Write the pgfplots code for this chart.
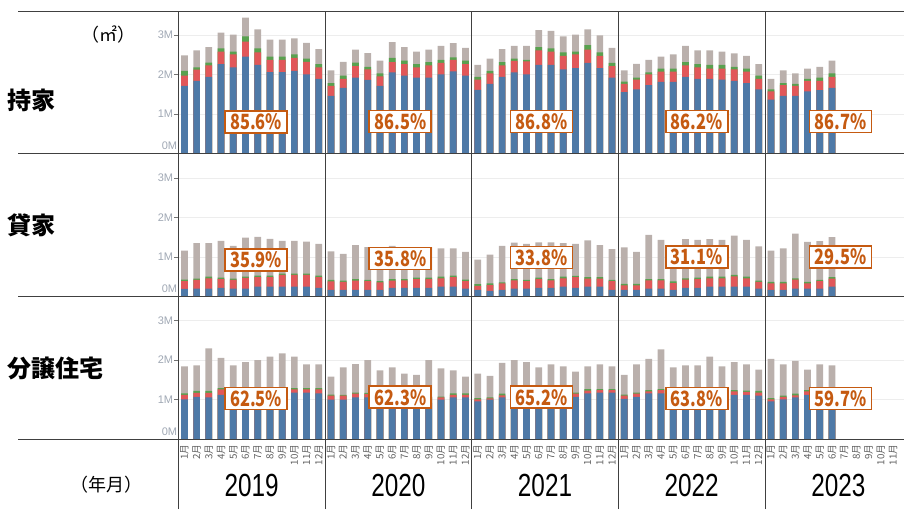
\documentclass[border=0pt]{standalone}
\usepackage{pgfplots}
\pgfplotsset{compat=1.18}
\usepackage{pgfplotstable}
\usepackage{fontspec}
\usepackage{graphicx}
\setmainfont{Liberation Sans}
\newfontfamily\jp{Noto Sans CJK JP}
\definecolor{cblue}{HTML}{4E79A7}
\definecolor{cred}{HTML}{E15759}
\definecolor{cgreen}{HTML}{59A14F}
\definecolor{cgray}{HTML}{BAB0AC}
\definecolor{lblorange}{HTML}{C55A11}
\definecolor{tickgray}{HTML}{A0A8B4}
\definecolor{monthgray}{HTML}{606060}
\definecolor{linec}{HTML}{404040}

% columns: x, total (top of grey), top of green, top of red, top of blue (millions of m2)
\pgfplotstableread{
x t g r b
1 2.48 2.09 1.97 1.71
2 2.61 2.18 2.12 1.84
3 2.69 2.30 2.23 1.94
4 3.06 2.66 2.58 2.26
5 3.01 2.58 2.51 2.18
6 3.44 2.96 2.83 2.45
7 3.14 2.66 2.56 2.24
8 2.88 2.45 2.37 2.06
9 2.88 2.45 2.37 2.06
10 2.91 2.51 2.42 2.09
11 2.80 2.40 2.32 2.00
12 2.64 2.26 2.18 1.89
13 2.10 1.78 1.71 1.46
14 2.32 1.97 1.89 1.66
15 2.63 2.30 2.21 1.92
16 2.54 2.19 2.13 1.86
17 2.35 2.03 1.95 1.71
18 2.82 2.42 2.31 2.05
19 2.69 2.35 2.26 1.97
20 2.58 2.26 2.18 1.92
21 2.63 2.31 2.23 1.92
22 2.72 2.37 2.29 2.00
23 2.79 2.43 2.37 2.08
24 2.67 2.35 2.26 1.97
25 2.24 1.94 1.87 1.61
26 2.40 2.09 2.03 1.76
27 2.64 2.31 2.23 1.94
28 2.72 2.40 2.34 2.05
29 2.72 2.37 2.33 2.00
30 3.12 2.69 2.61 2.24
31 3.10 2.66 2.58 2.24
32 2.96 2.56 2.47 2.13
33 3.01 2.58 2.51 2.16
34 3.14 2.74 2.63 2.29
35 2.99 2.56 2.47 2.16
36 2.67 2.29 2.21 1.92
37 2.10 1.82 1.76 1.55
38 2.27 1.92 1.87 1.62
39 2.37 2.05 2.00 1.73
40 2.45 2.15 2.07 1.81
41 2.51 2.15 2.07 1.81
42 2.72 2.31 2.23 1.94
43 2.61 2.26 2.18 1.89
44 2.61 2.24 2.15 1.89
45 2.58 2.24 2.15 1.87
46 2.53 2.19 2.13 1.84
47 2.47 2.15 2.07 1.78
48 2.26 1.97 1.89 1.62
49 1.89 1.62 1.57 1.36
50 2.10 1.78 1.73 1.46
51 2.03 1.76 1.71 1.46
52 2.15 1.89 1.84 1.57
53 2.19 1.92 1.84 1.60
54 2.35 2.03 1.94 1.66
}\rowA

\pgfplotstableread{
x t g r b
1 1.16 0.43 0.39 0.19
2 1.35 0.45 0.42 0.20
3 1.35 0.50 0.46 0.20
4 1.41 0.48 0.44 0.22
5 1.28 0.45 0.42 0.20
6 1.49 0.50 0.47 0.20
7 1.51 0.53 0.49 0.25
8 1.46 0.53 0.49 0.25
9 1.41 0.58 0.55 0.25
10 1.41 0.58 0.55 0.25
11 1.39 0.58 0.55 0.25
12 1.33 0.53 0.49 0.22
13 1.14 0.42 0.38 0.17
14 1.08 0.40 0.37 0.17
15 1.30 0.44 0.40 0.17
16 1.25 0.42 0.39 0.17
17 1.20 0.39 0.36 0.17
18 1.28 0.44 0.40 0.22
19 1.22 0.44 0.41 0.22
20 1.20 0.48 0.44 0.22
21 1.25 0.48 0.44 0.22
22 1.22 0.50 0.46 0.25
23 1.22 0.53 0.49 0.25
24 1.13 0.43 0.39 0.20
25 0.93 0.31 0.27 0.17
26 1.06 0.33 0.29 0.14
27 1.28 0.36 0.33 0.17
28 1.36 0.44 0.41 0.20
29 1.33 0.42 0.39 0.20
30 1.37 0.48 0.44 0.22
31 1.37 0.44 0.41 0.22
32 1.35 0.50 0.46 0.25
33 1.33 0.52 0.49 0.22
34 1.42 0.49 0.45 0.25
35 1.30 0.49 0.45 0.25
36 1.20 0.42 0.39 0.17
37 1.24 0.32 0.28 0.17
38 1.13 0.32 0.28 0.17
39 1.56 0.44 0.41 0.20
40 1.43 0.44 0.41 0.20
41 1.25 0.38 0.34 0.17
42 1.45 0.46 0.43 0.22
43 1.43 0.48 0.44 0.22
44 1.45 0.50 0.46 0.25
45 1.43 0.50 0.46 0.25
46 1.54 0.55 0.51 0.25
47 1.43 0.50 0.46 0.25
48 1.27 0.40 0.37 0.20
49 1.16 0.37 0.33 0.17
50 1.22 0.37 0.33 0.17
51 1.59 0.46 0.43 0.20
52 1.38 0.37 0.33 0.20
53 1.40 0.42 0.39 0.20
54 1.50 0.49 0.45 0.25
}\rowB

\pgfplotstableread{
x t g r b
1 1.84 1.16 1.12 1.01
2 1.87 1.22 1.17 1.07
3 2.30 1.22 1.17 1.06
4 2.06 1.29 1.26 1.12
5 1.87 1.22 1.18 1.05
6 1.95 1.25 1.21 1.08
7 2.00 1.25 1.21 1.08
8 2.09 1.27 1.23 1.10
9 2.17 1.29 1.25 1.12
10 2.09 1.29 1.26 1.18
11 1.89 1.29 1.26 1.18
12 1.89 1.29 1.26 1.16
13 1.58 1.13 1.10 1.00
14 1.82 1.12 1.10 1.00
15 1.90 1.18 1.15 1.06
16 2.00 1.17 1.14 1.06
17 1.74 1.14 1.11 1.00
18 1.82 1.13 1.10 1.00
19 1.66 1.12 1.09 0.98
20 1.63 1.12 1.09 0.98
21 2.00 1.08 1.06 0.92
22 1.79 1.08 1.06 1.00
23 1.74 1.16 1.12 1.06
24 1.58 1.16 1.12 1.06
25 1.66 1.04 1.01 0.96
26 1.60 1.06 1.03 1.00
27 1.93 1.15 1.11 1.06
28 2.00 1.17 1.14 1.08
29 1.95 1.17 1.14 1.08
30 1.82 1.15 1.12 1.05
31 1.89 1.16 1.13 1.06
32 1.84 1.16 1.13 1.06
33 1.71 1.18 1.15 1.07
34 1.84 1.27 1.23 1.16
35 1.89 1.27 1.24 1.18
36 1.84 1.27 1.24 1.18
37 1.63 1.13 1.10 1.02
38 1.89 1.18 1.15 1.07
39 2.03 1.24 1.21 1.16
40 2.27 1.27 1.24 1.16
41 1.82 1.20 1.17 1.10
42 1.87 1.20 1.17 1.10
43 1.87 1.20 1.17 1.10
44 2.09 1.22 1.19 1.12
45 1.84 1.22 1.19 1.12
46 1.95 1.24 1.21 1.12
47 1.89 1.23 1.20 1.12
48 1.76 1.22 1.18 1.10
49 2.03 1.04 1.01 0.96
50 1.89 1.10 1.07 1.01
51 1.98 1.15 1.11 1.06
52 1.76 1.24 1.21 1.12
53 1.89 1.20 1.17 1.10
54 1.87 1.20 1.17 1.10
}\rowC

\newcommand\pct[1]{\scalebox{0.78}[1]{#1}}
\newcommand\yr[1]{\scalebox{0.76}[1]{\fontsize{32}{32}\selectfont #1}}

\pgfplotsset{
  rowax/.style={scale only axis, width=725.7pt, height=142.7pt, anchor=south west,
    xmin=0.5, xmax=59.89, ymin=0, ymax=3.61,
    axis line style={draw=none},
    ytick={1,2,3}, yticklabels={1M,2M,3M},
    extra y ticks={0.2}, extra y tick labels={0M},
    extra y tick style={grid=none, major tick length=0pt},
    ymajorgrids, major grid style={draw=black!7, line width=0.8pt},
    ytick pos=left, tick align=outside,
    major tick length=4pt,
    tick style={draw=black!55, line width=0.8pt},
    yticklabel style={font=\fontsize{11}{11}\selectfont, text=tickgray, inner sep=1pt},
    xtick=\empty,
  },
  barsty/.style={ybar, bar width=0.55, bar shift=0pt, draw=none},
}
\tikzset{
  pctbox/.style={draw=lblorange, line width=1.7pt, fill=white, text=lblorange,
    minimum width=62pt, minimum height=22pt, inner sep=0pt,
    font=\jp\bfseries\fontsize{21}{21}\selectfont},
}

\begin{document}
\begin{tikzpicture}[x=1pt,y=1pt]
\useasboundingbox (0,0) rectangle (904,509);

% Row 1
\begin{axis}[rowax, at={(178.3pt,355.5pt)}]
\addplot[barsty, fill=cgray] table[x=x,y=t]{\rowA};
\addplot[barsty, fill=cgreen] table[x=x,y=g]{\rowA};
\addplot[barsty, fill=cred] table[x=x,y=r]{\rowA};
\addplot[barsty, fill=cblue] table[x=x,y=b]{\rowA};
\node[pctbox] at (axis cs:6.86,0.80) {\pct{85.6\%}};
\node[pctbox] at (axis cs:18.67,0.81) {\pct{86.5\%}};
\node[pctbox] at (axis cs:30.22,0.81) {\pct{86.8\%}};
\node[pctbox] at (axis cs:42.92,0.81) {\pct{86.2\%}};
\node[pctbox] at (axis cs:54.69,0.81) {\pct{86.7\%}};
\end{axis}

% Row 2
\begin{axis}[rowax, at={(178.3pt,212.5pt)}]
\addplot[barsty, fill=cgray] table[x=x,y=t]{\rowB};
\addplot[barsty, fill=cgreen] table[x=x,y=g]{\rowB};
\addplot[barsty, fill=cred] table[x=x,y=r]{\rowB};
\addplot[barsty, fill=cblue] table[x=x,y=b]{\rowB};
\node[pctbox] at (axis cs:6.86,0.92) {\pct{35.9\%}};
\node[pctbox] at (axis cs:18.67,0.96) {\pct{35.8\%}};
\node[pctbox] at (axis cs:30.22,0.99) {\pct{33.8\%}};
\node[pctbox] at (axis cs:42.92,1.00) {\pct{31.1\%}};
\node[pctbox] at (axis cs:54.69,1.00) {\pct{29.5\%}};
\end{axis}

% Row 3
\begin{axis}[rowax, at={(178.3pt,69.8pt)},
  xtick={1,...,59},
  xticklabels={1月,2月,3月,4月,5月,6月,7月,8月,9月,10月,11月,12月,
               1月,2月,3月,4月,5月,6月,7月,8月,9月,10月,11月,12月,
               1月,2月,3月,4月,5月,6月,7月,8月,9月,10月,11月,12月,
               1月,2月,3月,4月,5月,6月,7月,8月,9月,10月,11月,12月,
               1月,2月,3月,4月,5月,6月,7月,8月,9月,10月,11月},
  xtick style={draw=none},
  xticklabel style={rotate=90, anchor=east, inner sep=1pt,
    font=\jp\fontsize{9.8}{9.8}\selectfont, text=monthgray},
]
\addplot[barsty, fill=cgray] table[x=x,y=t]{\rowC};
\addplot[barsty, fill=cgreen] table[x=x,y=g]{\rowC};
\addplot[barsty, fill=cred] table[x=x,y=r]{\rowC};
\addplot[barsty, fill=cblue] table[x=x,y=b]{\rowC};
\node[pctbox] at (axis cs:6.86,1.03) {\pct{62.5\%}};
\node[pctbox] at (axis cs:18.67,1.06) {\pct{62.3\%}};
\node[pctbox] at (axis cs:30.22,1.06) {\pct{65.2\%}};
\node[pctbox] at (axis cs:42.92,1.03) {\pct{63.8\%}};
\node[pctbox] at (axis cs:54.69,1.03) {\pct{59.7\%}};
\end{axis}

% frame lines
\foreach \yy in {498, 355.5, 212.5, 69.8}
  \draw[linec, line width=0.9pt] (18,\yy) -- (904,\yy);
\foreach \xx in {178.3, 325, 471.7, 618.3, 765}
  \draw[linec, line width=0.9pt] (\xx,0) -- (\xx,498);

% left labels
\node[font=\jp\fontsize{18}{18}\selectfont, anchor=center] at (108,474) {（㎡）};
\node[font=\jp\bfseries\fontsize{24}{24}\selectfont, anchor=west, inner sep=0pt] at (7,409) {持家};
\node[font=\jp\bfseries\fontsize{24}{24}\selectfont, anchor=west, inner sep=0pt] at (7,284) {貸家};
\node[font=\jp\bfseries\fontsize{24}{24}\selectfont, anchor=west, inner sep=0pt] at (7,141) {分譲住宅};
\node[font=\jp\fontsize{18}{18}\selectfont, anchor=center] at (106,24) {（年月）};

% year labels
\node at (251.6,24) {\yr{2019}};
\node at (398.3,24) {\yr{2020}};
\node at (545.0,24) {\yr{2021}};
\node at (691.7,24) {\yr{2022}};
\node at (838.3,24) {\yr{2023}};
\end{tikzpicture}
\end{document}
